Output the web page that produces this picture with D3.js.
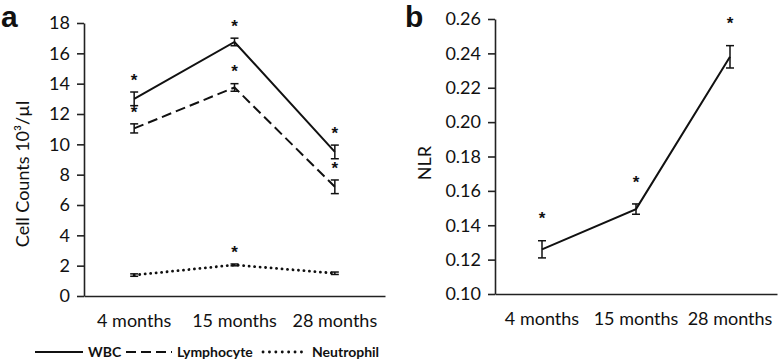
<!DOCTYPE html>
<html>
<head>
<meta charset="utf-8">
<script src="https://cdn.jsdelivr.net/npm/d3@7"></script>
<style>
  body { margin: 0; background: #fff; }
  svg { display: block; }
  text { font-family: Lato, "Open Sans", sans-serif; fill: #111; }
</style>
</head>
<body>
<div id="chart"></div>
<script>
// categories
const months = ["4 months", "15 months", "28 months"];

// panel a: cell counts (10^3/ul), mean and error
const wbcMean = [13.0, 16.75, 9.5];
const wbcErr = [0.45, 0.25, 0.45];
const wbcSig = [true, true, true];
const lymphMean = [11.05, 13.75, 7.2];
const lymphErr = [0.3, 0.25, 0.45];
const lymphSig = [true, true, true];
const neutMean = [1.38, 2.05, 1.5];
const neutErr = [0.08, 0.06, 0.08];
const neutSig = [false, true, false];
const countTicks = [0, 2, 4, 6, 8, 10, 12, 14, 16, 18];

// panel b: NLR
const nlrMean = [0.126, 0.1494, 0.238];
const nlrErr = [0.005, 0.003, 0.0065];
const nlrSig = [true, true, true];
const nlrTicks = [0.10, 0.12, 0.14, 0.16, 0.18, 0.20, 0.22, 0.24, 0.26];

const width = 780, height = 362;

const svg = d3.select("#chart").append("svg")
    .attr("width", width)
    .attr("height", height)
    .attr("viewBox", [0, 0, width, height]);

const dashes = { solid: null, dashed: "10,5", dotted: "0.1,5.4" };

function strokeFor(sel, style) {
    return sel.attr("stroke", "#111")
        .attr("stroke-width", style === "dotted" ? 2.8 : 2)
        .attr("stroke-linecap", style === "dotted" ? "round" : "butt")
        .attr("stroke-dasharray", dashes[style]);
}

function drawPanel(opts) {
    const x = d3.scaleBand(months, [opts.left, opts.right]);
    const y = d3.scaleLinear(opts.domain, [opts.bottom, opts.top]);

    // y axis
    const gy = svg.append("g")
        .attr("transform", `translate(${opts.left},0)`)
        .call(d3.axisLeft(y).tickValues(opts.ticks).tickFormat(opts.format).tickSize(7).tickSizeOuter(0).tickPadding(7));
    gy.selectAll("path, line").attr("stroke", "#222").attr("stroke-width", 1.6);
    gy.selectAll("text").style("font-size", "18px").style("font-family", "Lato, sans-serif").attr("fill", "#111");

    // x axis
    const gx = svg.append("g")
        .attr("transform", `translate(0,${opts.bottom})`)
        .call(d3.axisBottom(x).tickSize(0).tickPadding(18));
    gx.select(".domain").attr("stroke", "#222").attr("stroke-width", 1.6);
    gx.selectAll("text").style("font-size", "18px").style("font-family", "Lato, sans-serif").attr("fill", "#111");

    const cx = d => x(d) + x.bandwidth() / 2;

    opts.series.forEach(s => {
        const pts = months.map((m, i) => ({ m, v: s.mean[i], e: s.err[i], sig: s.sig[i] }));
        svg.append("path")
            .datum(pts)
            .attr("fill", "none")
            .call(strokeFor, s.style)
            .attr("d", d3.line().x(d => cx(d.m)).y(d => y(d.v)));

        const eb = svg.append("g").attr("stroke", "#111").attr("stroke-width", 1.5);
        pts.forEach(d => {
            const xc = cx(d.m);
            eb.append("line").attr("x1", xc).attr("x2", xc).attr("y1", y(d.v - d.e)).attr("y2", y(d.v + d.e));
            eb.append("line").attr("x1", xc - 4).attr("x2", xc + 4).attr("y1", y(d.v - d.e)).attr("y2", y(d.v - d.e));
            eb.append("line").attr("x1", xc - 4).attr("x2", xc + 4).attr("y1", y(d.v + d.e)).attr("y2", y(d.v + d.e));
        });

        svg.append("g").selectAll("text")
            .data(pts.filter(d => d.sig))
            .join("text")
            .attr("x", d => cx(d.m))
            .attr("y", d => y(d.v + d.e) - opts.starGap)
            .attr("text-anchor", "middle")
            .attr("dy", "0.75em")
            .attr("fill", "#000")
            .style("font-size", "17px")
            .style("font-weight", "bold")
            .style("font-family", "Liberation Sans, Arial, sans-serif")
            .text("*");
    });

    // axis title
    svg.append("text")
        .attr("transform", `translate(${opts.titleX},${opts.titleY}) rotate(-90)`)
        .attr("text-anchor", "middle")
        .attr("dy", "0.35em")
        .style("font-size", "18px")
        .text(opts.title);

    // panel letter
    svg.append("text")
        .attr("x", opts.letterX)
        .attr("y", 27)
        .style("font-family", "Liberation Sans, Arial, sans-serif")
        .style("font-weight", "bold")
        .style("font-size", "30px")
        .attr("fill", "#000")
        .text(opts.letter);
}

drawPanel({
    left: 84, right: 385, top: 23, bottom: 296,
    domain: [0, 18], ticks: countTicks, format: d3.format("d"),
    series: [
        { mean: wbcMean, err: wbcErr, sig: wbcSig, style: "solid" },
        { mean: lymphMean, err: lymphErr, sig: lymphSig, style: "dashed" },
        { mean: neutMean, err: neutErr, sig: neutSig, style: "dotted" }
    ],
    starGap: 19,
    title: "Cell Counts 10³/µl", titleX: 23, titleY: 174,
    letter: "a", letterX: 1
});

drawPanel({
    left: 495, right: 777, top: 19, bottom: 294,
    domain: [0.10, 0.26], ticks: nlrTicks, format: d3.format(".2f"),
    series: [
        { mean: nlrMean, err: nlrErr, sig: nlrSig, style: "solid" }
    ],
    starGap: 29,
    title: "NLR", titleX: 425, titleY: 163,
    letter: "b", letterX: 405
});

// legend
const legendItems = [
    { name: "WBC", style: "solid", x: 35, len: 48 },
    { name: "Lymphocyte", style: "dashed", x: 126, len: 46 },
    { name: "Neutrophil", style: "dotted", x: 263, len: 44 }
];
const lg = svg.append("g").attr("transform", "translate(0,352)");
legendItems.forEach(d => {
    lg.append("line")
        .attr("x1", d.x).attr("x2", d.x + d.len)
        .call(strokeFor, d.style)
        .attr("stroke-dasharray", d.style === "dotted" ? "0.1,6.3" : dashes[d.style]);
    lg.append("text")
        .attr("x", d.x + d.len + 5)
        .attr("dy", "0.35em")
        .style("font-size", "14px")
        .style("font-weight", "bold")
        .text(d.name);
});
</script>
</body>
</html>
